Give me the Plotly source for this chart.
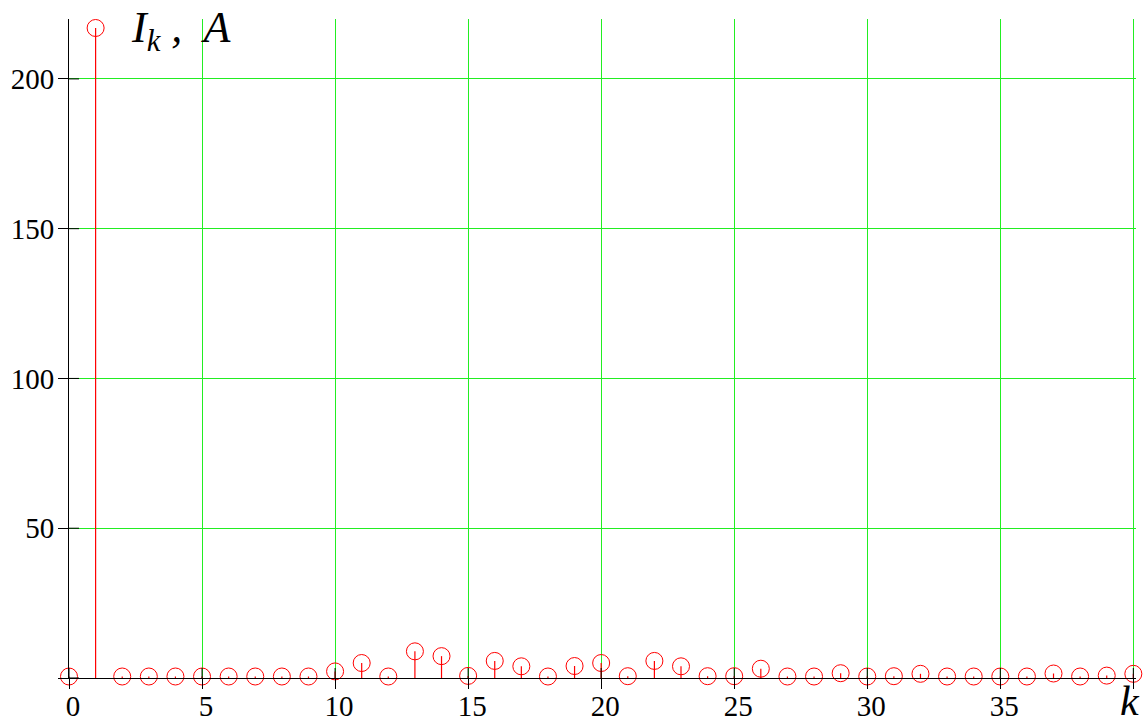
import plotly.graph_objects as go

# Harmonic number and amplitude of the k-th current harmonic, A
k = list(range(41))
i_k = [0.5, 217.0, 0.5, 0.5, 0.5, 0.5, 0.5, 0.5, 0.5, 0.5,
       2.2, 5.0, 0.5, 8.9, 7.3, 0.7, 5.7, 3.9, 0.5, 4.0,
       5.0, 0.6, 5.7, 3.9, 0.6, 0.6, 3.1, 0.5, 0.5, 1.6,
       0.5, 0.6, 1.4, 0.5, 0.5, 0.5, 0.5, 1.5, 0.5, 0.8,
       1.4]

x_ticks = [0, 5, 10, 15, 20, 25, 30, 35, 40]
x_labels = ["0", "5", "10", "15", "20", "25", "30", "35", ""]
y_ticks = [0, 50, 100, 150, 200]
y_labels = ["", "50", "100", "150", "200"]

RED = "#ff0000"
GREEN = "#22ee22"
SERIF = "Liberation Serif, Times New Roman, serif"
TICK = 10  # tick half-length, px

# vertical stems from zero up to each amplitude
stem_x, stem_y = [], []
for kk, v in zip(k, i_k):
    stem_x += [kk, kk, None]
    stem_y += [0, v, None]

fig = go.Figure()
fig.add_trace(go.Scatter(
    x=stem_x, y=stem_y, mode="lines",
    line=dict(color=RED, width=1.2),
    hoverinfo="skip", showlegend=False,
))
fig.add_trace(go.Scatter(
    x=k, y=i_k, mode="markers",
    marker=dict(symbol="circle-open", size=17, color=RED, line=dict(width=1, color=RED)),
    cliponaxis=False, showlegend=False,
))

# inner half of the crossing tick marks
shapes = []
for t in x_ticks:
    shapes.append(dict(
        type="line", xref="x", yref="y", ysizemode="pixel", yanchor=0,
        x0=t, x1=t, y0=0, y1=TICK, line=dict(color="black", width=1), layer="above",
    ))
for t in y_ticks:
    shapes.append(dict(
        type="line", xref="x", yref="y", xsizemode="pixel", xanchor=0,
        x0=0, x1=TICK, y0=t, y1=t, line=dict(color="black", width=1), layer="above",
    ))

axis_common = dict(
    showline=True, linecolor="black", linewidth=1,
    ticks="outside", tickcolor="black", tickwidth=1, ticklen=TICK,
    zeroline=False, automargin=False, tickmode="array",
    showgrid=True, gridcolor=GREEN, gridwidth=1,
    tickfont=dict(family=SERIF, size=29, color="black"),
)

fig.update_layout(
    template="none",
    width=1147, height=726,
    margin=dict(l=69, r=11, t=19, b=48, pad=0),
    paper_bgcolor="white", plot_bgcolor="white",
    xaxis=dict(range=[0, 40.1], tickvals=x_ticks, ticktext=x_labels,
               ticklabelshift=4, ticklabelstandoff=-8, **axis_common),
    yaxis=dict(range=[0, 220], tickvals=y_ticks, ticktext=y_labels,
               ticklabelstandoff=-2, **axis_common),
    shapes=shapes,
    annotations=[
        dict(
            text="<i>I</i><sub><i>k</i></sub><i> ,\u00a0 A</i>",
            xref="paper", yref="paper", x=0.056, y=0.982,
            xanchor="left", yanchor="middle", showarrow=False,
            font=dict(family=SERIF, size=44, color="black"),
        ),
        dict(
            text="<i>k</i>",
            xref="paper", yref="paper", x=1.0056, y=-0.0725,
            xanchor="right", yanchor="bottom", showarrow=False,
            font=dict(family=SERIF, size=42, color="black"),
        ),
    ],
)

fig.write_html("out.html")
